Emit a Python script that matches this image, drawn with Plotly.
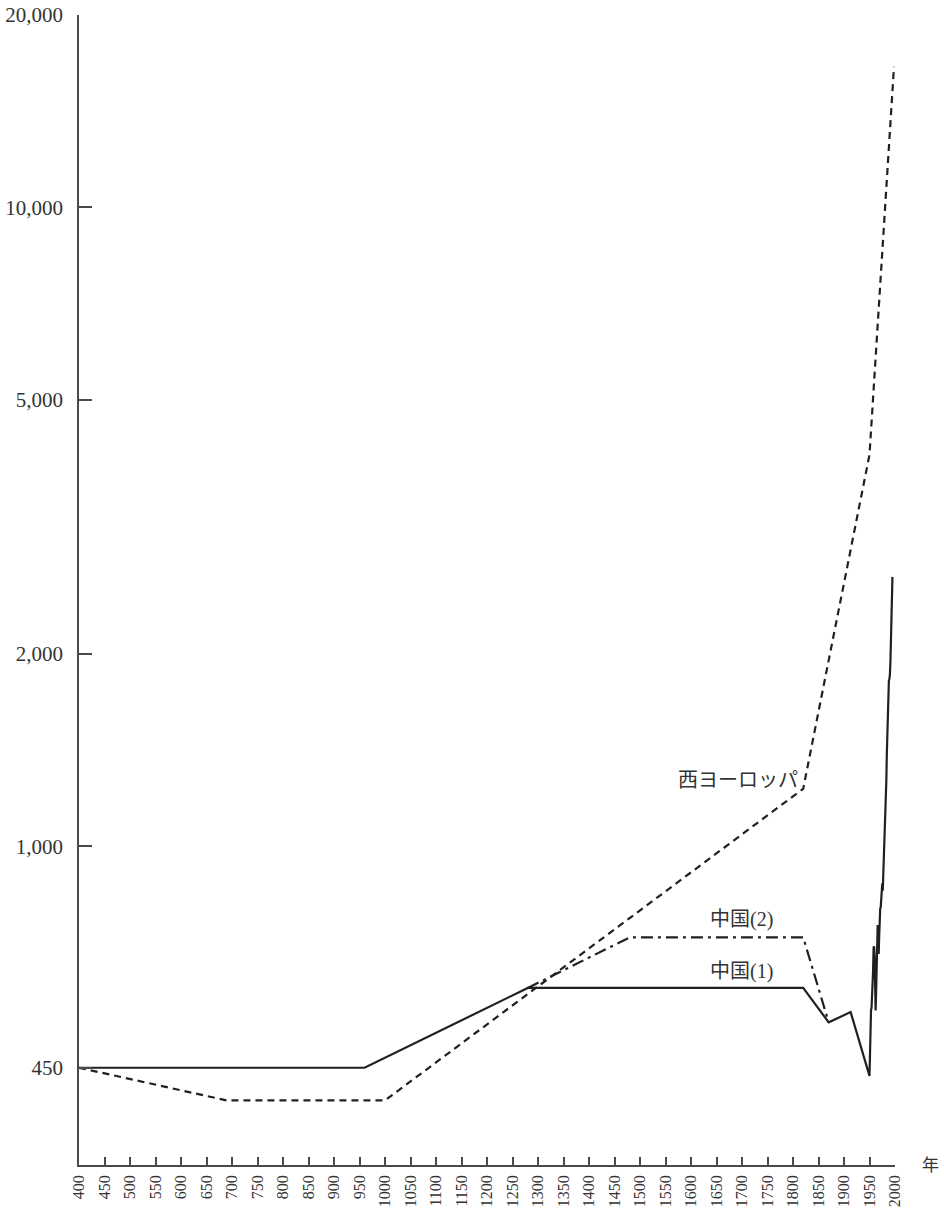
import math
import plotly.graph_objects as go

# ---------------- data ----------------
we_years = [400, 690, 1000, 1820, 1950, 1998]
we_vals = [450, 400, 400, 1230, 4100, 16600]

china2_years = [1280, 1480, 1820, 1870]
china2_vals = [600, 720, 720, 530]

china1_years = [400, 960, 1280, 1820, 1870, 1913,
                1950, 1951, 1952, 1953, 1954, 1955, 1956, 1957, 1958, 1959,
                1960, 1961, 1962, 1963, 1964, 1965, 1966, 1967, 1968, 1969,
                1970, 1971, 1972, 1973, 1974, 1975, 1976, 1977, 1978, 1979,
                1980, 1981, 1982, 1983, 1984, 1985, 1986, 1987, 1988, 1989,
                1990, 1991, 1992, 1993, 1994, 1995]
china1_vals = [450, 450, 600, 600, 530, 550,
               437, 479, 537, 554, 558, 575, 619, 637, 693, 697,
               673, 557, 553, 592, 648, 706, 753, 712, 678, 722,
               783, 799, 802, 839, 836, 874, 852, 895, 979, 1040,
               1067, 1103, 1192, 1265, 1396, 1522, 1597, 1706, 1816, 1827,
               1858, 1940, 2098, 2277, 2475, 2640]

y_tickvals = [450, 1000, 2000, 5000, 10000, 20000]
y_ticktext = ["450", "1,000", "2,000", "5,000", "10,000", "20,000"]
x_tickvals = list(range(400, 2001, 50))
x_ticktext = [str(v) for v in x_tickvals]

labels = [
    {"text": "西ヨーロッパ", "x": 1814, "y": 1270, "anchor": "right"},
    {"text": "中国(2)", "x": 1634, "y": 769, "anchor": "left"},
    {"text": "中国(1)", "x": 1634, "y": 636, "anchor": "left"},
]

# ---------------- figure ----------------
INK = "#231f20"
AXIS = "#4a4a4a"
SERIF = "Liberation Serif, Noto Sans CJK JP, serif"

fig = go.Figure()
fig.add_trace(go.Scatter(x=we_years, y=we_vals, mode="lines",
                         line=dict(color=INK, width=2.2, dash="7px,5px"),
                         hoverinfo="skip", showlegend=False))
fig.add_trace(go.Scatter(x=china2_years, y=china2_vals, mode="lines",
                         line=dict(color=INK, width=2.2, dash="12px,5px,3px,5px"),
                         hoverinfo="skip", showlegend=False))
fig.add_trace(go.Scatter(x=china1_years, y=china1_vals, mode="lines",
                         line=dict(color=INK, width=2.2),
                         hoverinfo="skip", showlegend=False))

for lab in labels:
    fig.add_annotation(x=lab["x"], y=math.log10(lab["y"]), xref="x", yref="y",
                       text=lab["text"], showarrow=False,
                       xanchor=lab["anchor"], yanchor="middle",
                       font=dict(family=SERIF, size=20, color="#333"))

fig.add_annotation(x=1.043, y=0, xref="paper", yref="paper", text="年",
                   showarrow=False, xanchor="center", yanchor="middle",
                   font=dict(family=SERIF, size=17, color="#333"))

fig.update_layout(
    width=944, height=1213,
    margin=dict(l=79, r=49, t=15, b=48, autoexpand=False),
    paper_bgcolor="white", plot_bgcolor="white",
    xaxis=dict(range=[400, 2000], tickmode="array", tickvals=x_tickvals,
               ticktext=x_ticktext, tickangle=-90, ticks="inside", ticklen=8,
               tickwidth=1.5, tickcolor=AXIS, showline=True, linecolor=AXIS,
               linewidth=1.5, showgrid=False, zeroline=False, automargin=False,
               ticklabelstandoff=2,
               tickfont=dict(family=SERIF, size=16, color="#333")),
    yaxis=dict(type="log", range=[2.501, math.log10(20000)], tickmode="array",
               tickvals=y_tickvals, ticktext=y_ticktext, ticks="inside",
               ticklen=13, tickwidth=1.5, tickcolor=AXIS, showline=True,
               linecolor=AXIS, linewidth=1.5, showgrid=False, zeroline=False,
               automargin=False, ticklabelstandoff=10,
               tickfont=dict(family=SERIF, size=21, color="#333")),
)

fig.write_html("out.html")
